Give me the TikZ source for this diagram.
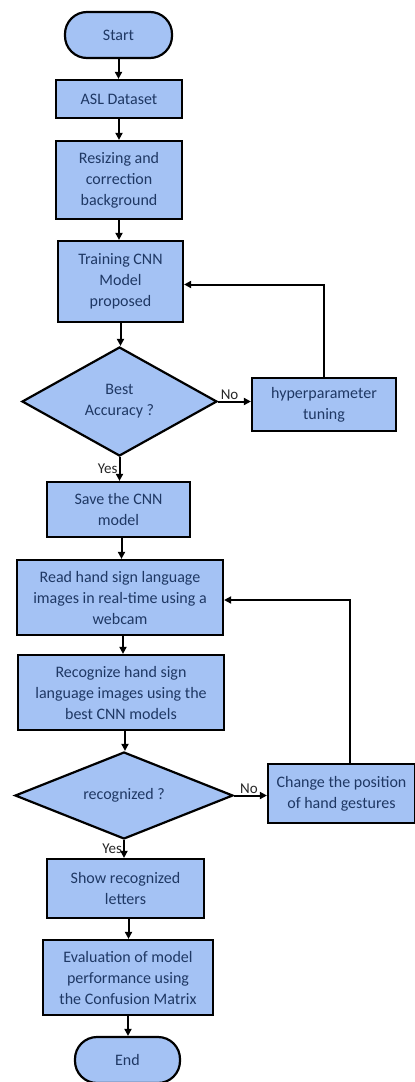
\documentclass[tikz,border=0pt]{standalone}
\usepackage{fontspec}
\setmainfont{Carlito}
\usetikzlibrary{shapes.geometric,arrows.meta}
\definecolor{boxfill}{HTML}{A4C2F4}
\definecolor{boxtext}{HTML}{1F3864}
\begin{document}
\begin{tikzpicture}[x=1pt,y=-1pt,
 box/.style={draw=black,fill=boxfill,line width=2.2pt,text=boxtext,align=center,inner sep=0pt,font=\fontsize{16}{21}\selectfont},
 term/.style={box,rounded corners=22pt},
 dec/.style={box,diamond,aspect=1.8},
 arr/.style={line width=2pt,-{Triangle[length=7pt,width=7pt]}},
 lab/.style={font=\fontsize{15}{18}\selectfont,text=black!85,inner sep=1pt}]
\useasboundingbox (0,0) rectangle (415,1082);
\node[term,minimum width=107pt,minimum height=46pt] (start) at (118.5,35) {Start};
\node[box,minimum width=126pt,minimum height=38pt] (asl) at (119,99) {ASL Dataset};
\node[box,minimum width=126pt,minimum height=78pt] (resize) at (119,180) {Resizing and\\correction\\background};
\node[box,minimum width=125pt,minimum height=81pt] (train) at (120.5,281.5) {Training CNN\\Model\\proposed};
\node[dec,minimum width=195pt,minimum height=109pt] (best) at (119.5,401.5) {Best\\Accuracy ?};
\node[box,minimum width=144pt,minimum height=53pt] (hyper) at (324,404.5) {hyperparameter\\tuning};
\node[box,minimum width=143pt,minimum height=55pt] (save) at (118.5,509.5) {Save the CNN\\model};
\node[box,minimum width=206pt,minimum height=75pt] (read) at (120,597.5) {Read hand sign language\\images in real-time using a\\webcam};
\node[box,minimum width=206pt,minimum height=75pt] (recog) at (121,692.5) {Recognize hand sign\\language images using the\\best CNN models};
\node[dec,minimum width=218pt,minimum height=87pt] (rec) at (124,795.5) {recognized ?};
\node[box,minimum width=147pt,minimum height=59pt] (change) at (341.5,793.5) {Change the position\\of hand gestures};
\node[box,minimum width=157pt,minimum height=59pt] (show) at (125.5,888.5) {Show recognized\\letters};
\node[box,minimum width=170pt,minimum height=75pt] (eval) at (128,977.5) {Evaluation of model\\performance using\\the Confusion Matrix};
\node[term,minimum width=105pt,minimum height=46pt] (end) at (127.5,1060) {End};

\draw[arr] (start.south) -- (start.south |- asl.north);
\draw[arr] (asl.south) -- (asl.south |- resize.north);
\draw[arr] (resize.south) -- (resize.south |- train.north);
\draw[arr] (train.south) -- (train.south |- best.north);
\draw[arr] (best.east) -- node[lab,above,pos=0.35]{No} (best.east -| hyper.west);
\draw[arr] (hyper.north) |- ([yshift=-3pt]train.east);
\draw[arr] (best.south) -- node[lab,left,pos=0.5]{Yes} (best.south |- save.north);
\draw[arr] ([xshift=3pt]save.south) -- ([xshift=3pt]save.south |- read.north);
\draw[arr] ([xshift=3pt]read.south) -- ([xshift=3pt]read.south |- recog.north);
\draw[arr] ([xshift=4pt]recog.south) -- ([xshift=4pt]recog.south |- rec.north);
\draw[arr] (rec.east) -- node[lab,above,pos=0.45]{No} (rec.east -| change.west);
\draw[arr] ([xshift=8.5pt]change.north) |- ([yshift=-2.5pt]read.east);
\draw[arr] (rec.south) -- node[lab,left,pos=0.5]{Yes} (rec.south |- show.north);
\draw[arr] ([xshift=3pt]show.south) -- ([xshift=3pt]show.south |- eval.north);
\draw[arr] (eval.south) -- (eval.south |- end.north);
\end{tikzpicture}
\end{document}
